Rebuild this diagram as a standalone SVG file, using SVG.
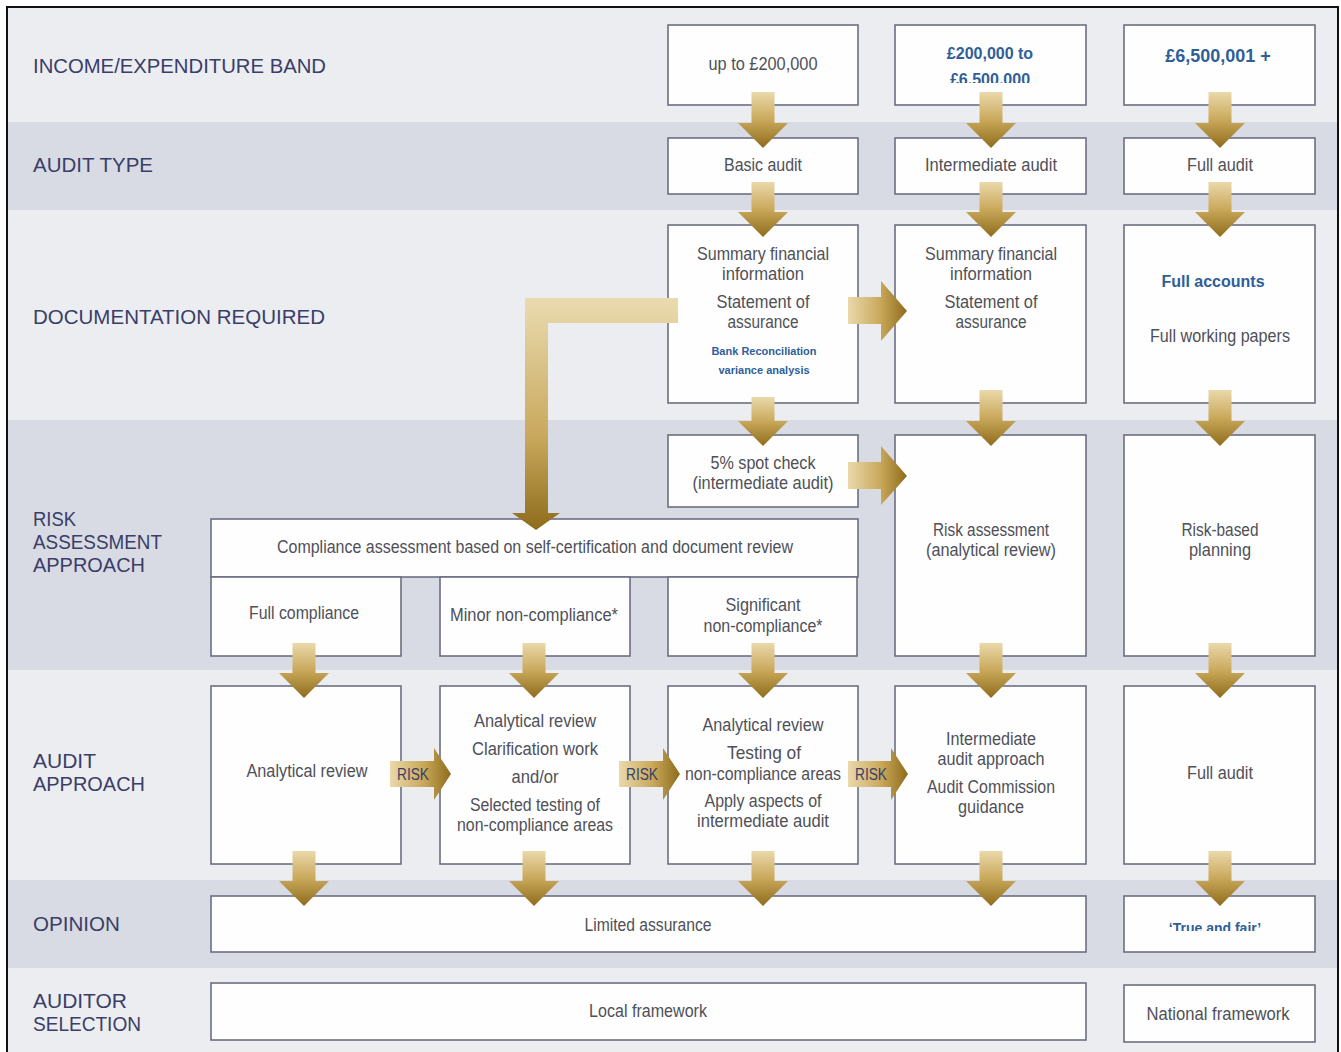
<svg xmlns="http://www.w3.org/2000/svg" width="1341" height="1052" viewBox="0 0 1341 1052">
<style>
.band-l{fill:#ecedf1}
.band-d{fill:#d8dbe3}
.lbl{font-family:"Liberation Sans","Open Sans",sans-serif;font-size:19.5px;fill:#3a3e68}
.box{fill:#fefefe;stroke:#6c6f82;stroke-width:1.6}
.t{font-family:"Liberation Sans","Open Sans",sans-serif;font-size:17.5px;fill:#4f5058;text-anchor:middle}
.b{font-family:"Liberation Sans","Open Sans",sans-serif;font-weight:bold;fill:#2f5e99;text-anchor:middle}
.risk{font-family:"Liberation Sans",sans-serif;font-size:16px;fill:#3a3e68;text-anchor:middle}
.da{fill:url(#gdown)}
.ra{fill:url(#gright)}
</style>
<defs>
<linearGradient id="gdown" x1="0" y1="0" x2="0" y2="1">
<stop offset="0" stop-color="#ead9ab"/>
<stop offset="0.5" stop-color="#c9a85a"/>
<stop offset="1" stop-color="#8f6c1c"/>
</linearGradient>
<linearGradient id="gright" x1="0" y1="0" x2="1" y2="0">
<stop offset="0" stop-color="#ead9ab"/>
<stop offset="0.55" stop-color="#c9a85a"/>
<stop offset="1" stop-color="#8f6c1c"/>
</linearGradient>
<linearGradient id="gL" gradientUnits="userSpaceOnUse" x1="0" y1="298" x2="0" y2="530">
<stop offset="0" stop-color="#eadbb0"/>
<stop offset="0.6" stop-color="#c8a85c"/>
<stop offset="1" stop-color="#8f6c1c"/>
</linearGradient>
<clipPath id="clipBand2"><rect x="895" y="25" width="191" height="58"/></clipPath>
<clipPath id="clipTF"><rect x="1124" y="896" width="191" height="35"/></clipPath>
</defs>

<g id="background">
<rect class="band-l" x="8" y="8" width="1330" height="114"/>
<rect class="band-d" x="8" y="122" width="1330" height="88"/>
<rect class="band-l" x="8" y="210" width="1330" height="210"/>
<rect class="band-d" x="8" y="420" width="1330" height="250"/>
<rect class="band-l" x="8" y="670" width="1330" height="210"/>
<rect class="band-d" x="8" y="880" width="1330" height="88"/>
<rect class="band-l" x="8" y="968" width="1330" height="84"/>
<rect x="7" y="7" width="1331" height="1050" fill="none" stroke="#111" stroke-width="2"/>
</g>

<g id="row-labels">
<text class="lbl" x="33" y="73" textLength="293" lengthAdjust="spacingAndGlyphs">INCOME/EXPENDITURE BAND</text>
<text class="lbl" x="33" y="172" textLength="120" lengthAdjust="spacingAndGlyphs">AUDIT TYPE</text>
<text class="lbl" x="33" y="324" textLength="292" lengthAdjust="spacingAndGlyphs">DOCUMENTATION REQUIRED</text>
<text class="lbl" x="33" y="526" textLength="43" lengthAdjust="spacingAndGlyphs">RISK</text>
<text class="lbl" x="33" y="549" textLength="129" lengthAdjust="spacingAndGlyphs">ASSESSMENT</text>
<text class="lbl" x="33" y="572" textLength="112" lengthAdjust="spacingAndGlyphs">APPROACH</text>
<text class="lbl" x="33" y="768" textLength="63" lengthAdjust="spacingAndGlyphs">AUDIT</text>
<text class="lbl" x="33" y="791" textLength="112" lengthAdjust="spacingAndGlyphs">APPROACH</text>
<text class="lbl" x="33" y="931" textLength="87" lengthAdjust="spacingAndGlyphs">OPINION</text>
<text class="lbl" x="33" y="1008" textLength="94" lengthAdjust="spacingAndGlyphs">AUDITOR</text>
<text class="lbl" x="33" y="1031" textLength="108" lengthAdjust="spacingAndGlyphs">SELECTION</text>
</g>

<g id="band-low"><rect class="box" x="668" y="25" width="190" height="80"/><text class="t" x="763" y="70" textLength="109" lengthAdjust="spacingAndGlyphs">up to £200,000</text></g>
<g id="band-mid"><rect class="box" x="895" y="25" width="191" height="80"/>
<g clip-path="url(#clipBand2)"><text class="b" font-size="16" x="990" y="59">£200,000 to</text><text class="b" font-size="16" x="990" y="85">£6,500,000</text></g></g>
<g id="band-high"><rect class="box" x="1124" y="25" width="191" height="80"/><text class="b" font-size="18" x="1218" y="62">£6,500,001 +</text></g>

<g id="type-basic"><rect class="box" x="668" y="138" width="190" height="56"/><text class="t" x="763" y="171" textLength="78" lengthAdjust="spacingAndGlyphs">Basic audit</text></g>
<g id="type-intermediate"><rect class="box" x="895" y="138" width="191" height="56"/><text class="t" x="991" y="171" textLength="132" lengthAdjust="spacingAndGlyphs">Intermediate audit</text></g>
<g id="type-full"><rect class="box" x="1124" y="138" width="191" height="56"/><text class="t" x="1220" y="171" textLength="66" lengthAdjust="spacingAndGlyphs">Full audit</text></g>

<g id="doc-basic"><rect class="box" x="668" y="225" width="190" height="178"/>
<text class="t" x="763" y="260" textLength="132" lengthAdjust="spacingAndGlyphs">Summary financial</text><text class="t" x="763" y="280" textLength="82" lengthAdjust="spacingAndGlyphs">information</text>
<text class="t" x="763" y="308" textLength="93" lengthAdjust="spacingAndGlyphs">Statement of</text><text class="t" x="763" y="328" textLength="71" lengthAdjust="spacingAndGlyphs">assurance</text>
<text class="b" font-size="11" x="764" y="355">Bank Reconciliation</text><text class="b" font-size="11" x="764" y="374">variance analysis</text></g>
<g id="doc-intermediate"><rect class="box" x="895" y="225" width="191" height="178"/>
<text class="t" x="991" y="260" textLength="132" lengthAdjust="spacingAndGlyphs">Summary financial</text><text class="t" x="991" y="280" textLength="82" lengthAdjust="spacingAndGlyphs">information</text>
<text class="t" x="991" y="308" textLength="93" lengthAdjust="spacingAndGlyphs">Statement of</text><text class="t" x="991" y="328" textLength="71" lengthAdjust="spacingAndGlyphs">assurance</text></g>
<g id="doc-full"><rect class="box" x="1124" y="225" width="191" height="178"/>
<text class="b" font-size="16" x="1213" y="287">Full accounts</text><text class="t" x="1220" y="342" textLength="140" lengthAdjust="spacingAndGlyphs">Full working papers</text></g>

<g id="spot-check"><rect class="box" x="668" y="435" width="190" height="72"/><text class="t" x="763" y="469" textLength="105" lengthAdjust="spacingAndGlyphs">5% spot check</text><text class="t" x="763" y="489" textLength="141" lengthAdjust="spacingAndGlyphs">(intermediate audit)</text></g>
<g id="risk-assessment"><rect class="box" x="895" y="435" width="191" height="221"/><text class="t" x="991" y="536" textLength="116" lengthAdjust="spacingAndGlyphs">Risk assessment</text><text class="t" x="991" y="556" textLength="130" lengthAdjust="spacingAndGlyphs">(analytical review)</text></g>
<g id="risk-based"><rect class="box" x="1124" y="435" width="191" height="221"/><text class="t" x="1220" y="536" textLength="77" lengthAdjust="spacingAndGlyphs">Risk-based</text><text class="t" x="1220" y="556" textLength="62" lengthAdjust="spacingAndGlyphs">planning</text></g>

<g id="compliance"><rect class="box" x="211" y="519" width="647" height="58"/><text class="t" x="535" y="553" textLength="516" lengthAdjust="spacingAndGlyphs">Compliance assessment based on self-certification and document review</text></g>
<g id="full-compliance"><rect class="box" x="211" y="577" width="190" height="79"/><text class="t" x="304" y="619" textLength="110" lengthAdjust="spacingAndGlyphs">Full compliance</text></g>
<g id="minor"><rect class="box" x="440" y="577" width="190" height="79"/><text class="t" x="534" y="621" textLength="168" lengthAdjust="spacingAndGlyphs">Minor non-compliance*</text></g>
<g id="significant"><rect class="box" x="668" y="577" width="189" height="79"/><text class="t" x="763" y="611" textLength="75" lengthAdjust="spacingAndGlyphs">Significant</text><text class="t" x="763" y="632" textLength="119" lengthAdjust="spacingAndGlyphs">non-compliance*</text></g>

<g id="approach-1"><rect class="box" x="211" y="686" width="190" height="178"/><text class="t" x="307" y="777" textLength="121" lengthAdjust="spacingAndGlyphs">Analytical review</text></g>
<g id="approach-2"><rect class="box" x="440" y="686" width="190" height="178"/>
<text class="t" x="535" y="727" textLength="122" lengthAdjust="spacingAndGlyphs">Analytical review</text><text class="t" x="535" y="755" textLength="126" lengthAdjust="spacingAndGlyphs">Clarification work</text><text class="t" x="535" y="783" textLength="47" lengthAdjust="spacingAndGlyphs">and/or</text><text class="t" x="535" y="811" textLength="130" lengthAdjust="spacingAndGlyphs">Selected testing of</text><text class="t" x="535" y="831" textLength="156" lengthAdjust="spacingAndGlyphs">non-compliance areas</text></g>
<g id="approach-3"><rect class="box" x="668" y="686" width="190" height="178"/>
<text class="t" x="763" y="731" textLength="121" lengthAdjust="spacingAndGlyphs">Analytical review</text><text class="t" x="764" y="759" textLength="74" lengthAdjust="spacingAndGlyphs">Testing of</text><text class="t" x="763" y="780" textLength="156" lengthAdjust="spacingAndGlyphs">non-compliance areas</text><text class="t" x="763" y="807" textLength="117" lengthAdjust="spacingAndGlyphs">Apply aspects of</text><text class="t" x="763" y="827" textLength="132" lengthAdjust="spacingAndGlyphs">intermediate audit</text></g>
<g id="approach-4"><rect class="box" x="895" y="686" width="191" height="178"/>
<text class="t" x="991" y="745" textLength="90" lengthAdjust="spacingAndGlyphs">Intermediate</text><text class="t" x="991" y="765" textLength="107" lengthAdjust="spacingAndGlyphs">audit approach</text><text class="t" x="991" y="793" textLength="128" lengthAdjust="spacingAndGlyphs">Audit Commission</text><text class="t" x="991" y="813" textLength="66" lengthAdjust="spacingAndGlyphs">guidance</text></g>
<g id="approach-5"><rect class="box" x="1124" y="686" width="191" height="178"/><text class="t" x="1220" y="779" textLength="66" lengthAdjust="spacingAndGlyphs">Full audit</text></g>

<g id="opinion-limited"><rect class="box" x="211" y="896" width="875" height="56"/><text class="t" x="648" y="931" textLength="127" lengthAdjust="spacingAndGlyphs">Limited assurance</text></g>
<g id="opinion-true"><rect class="box" x="1124" y="896" width="191" height="56"/><g clip-path="url(#clipTF)"><text class="b" font-size="14" x="1215" y="933">‘True and fair’</text></g></g>
<g id="auditor-local"><rect class="box" x="211" y="983" width="875" height="57"/><text class="t" x="648" y="1017" textLength="118" lengthAdjust="spacingAndGlyphs">Local framework</text></g>
<g id="auditor-national"><rect class="box" x="1124" y="985" width="191" height="57"/><text class="t" x="1218" y="1020" textLength="143" lengthAdjust="spacingAndGlyphs">National framework</text></g>

<g id="connectors">
<path class="da" d="M751.5 92H774.5V123H788L763 148L738 123H751.5Z"/>
<path class="da" d="M979.5 92H1002.5V123H1016L991 148L966 123H979.5Z"/>
<path class="da" d="M1208.5 92H1231.5V123H1245L1220 148L1195 123H1208.5Z"/>
<path class="da" d="M751.5 182H774.5V212H788L763 237L738 212H751.5Z"/>
<path class="da" d="M979.5 182H1002.5V212H1016L991 237L966 212H979.5Z"/>
<path class="da" d="M1208.5 182H1231.5V212H1245L1220 237L1195 212H1208.5Z"/>
<path class="da" d="M751.5 397H774.5V421H788L763 446L738 421H751.5Z"/>
<path class="da" d="M979.5 390H1002.5V421H1016L991 446L966 421H979.5Z"/>
<path class="da" d="M1208.5 390H1231.5V421H1245L1220 446L1195 421H1208.5Z"/>
<path class="da" d="M292.5 643H315.5V673H329L304 698L279 673H292.5Z"/>
<path class="da" d="M522.5 643H545.5V673H559L534 698L509 673H522.5Z"/>
<path class="da" d="M751.5 643H774.5V673H788L763 698L738 673H751.5Z"/>
<path class="da" d="M979.5 643H1002.5V673H1016L991 698L966 673H979.5Z"/>
<path class="da" d="M1208.5 643H1231.5V673H1245L1220 698L1195 673H1208.5Z"/>
<path class="da" d="M292.5 851H315.5V881H329L304 906L279 881H292.5Z"/>
<path class="da" d="M522.5 851H545.5V881H559L534 906L509 881H522.5Z"/>
<path class="da" d="M751.5 851H774.5V881H788L763 906L738 881H751.5Z"/>
<path class="da" d="M979.5 851H1002.5V881H1016L991 906L966 881H979.5Z"/>
<path class="da" d="M1208.5 851H1231.5V881H1245L1220 906L1195 881H1208.5Z"/>
<path class="ra" d="M848 297H881V281L907 311L881 341V324H848Z"/>
<path class="ra" d="M848 462H881V446L907 476L881 505V489H848Z"/>
<path fill="url(#gL)" d="M678 298H525V513H512L536 530L560 513H548V323H678Z"/>
<path class="ra" d="M390 761H434V748L451 774L434 800V787H390Z"/>
<text class="risk" x="413" y="780" textLength="32" lengthAdjust="spacingAndGlyphs">RISK</text>
<path class="ra" d="M619 761H663V748L680 774L663 800V787H619Z"/>
<text class="risk" x="642" y="780" textLength="32" lengthAdjust="spacingAndGlyphs">RISK</text>
<path class="ra" d="M848 761H891V748L908 774L891 800V787H848Z"/>
<text class="risk" x="871" y="780" textLength="32" lengthAdjust="spacingAndGlyphs">RISK</text>
</g>
</svg>
